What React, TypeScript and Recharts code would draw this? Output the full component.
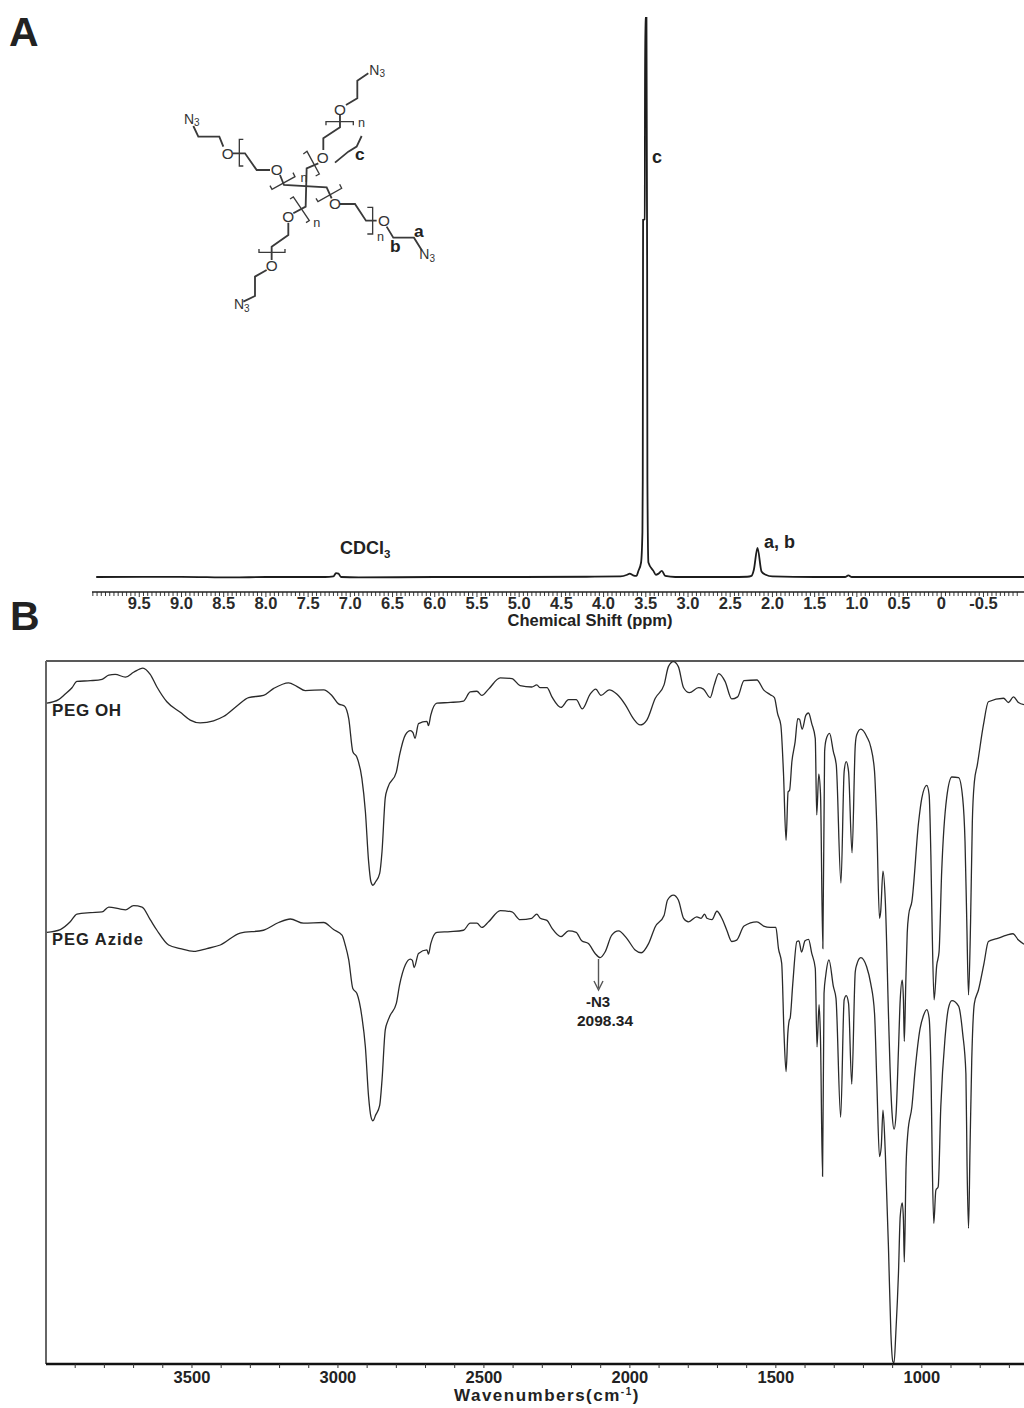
import React from 'react'
import { LineChart, Line, XAxis, YAxis, ReferenceLine } from 'recharts'

const FONT = '"Liberation Sans", Arial, sans-serif'

// 1H NMR trace: chemical shift (ppm) and relative intensity
const nmrShift = [10.01, 9.0, 8.4, 8.0, 7.3, 7.2, 7.17, 7.14, 7.11, 6.9, 6.0, 5.0, 4.2, 3.8, 3.72, 3.69, 3.65, 3.61, 3.59, 3.556, 3.54, 3.536, 3.533, 3.532, 3.512, 3.508, 3.492, 3.484, 3.481, 3.469, 3.41, 3.38, 3.35, 3.31, 3.27, 3.15, 2.5, 2.3, 2.248, 2.22, 2.177, 2.129, 2.08, 2.0, 1.5, 1.14, 1.1, 1.06, 0.5, -0.98]
const nmrIntensity = [0, 0.03, -0.08, 0, 0, 0.1, 0.7, 0.6, 0, -0.08, 0, 0, 0.05, 0.1, 0.4, 0.6, 0.3, 0.2, 1.0, 2.6, 8, 17.4, 54.9, 63.9, 64, 100, 100, 54.9, 17.4, 2.6, 1.1, 0.4, 0.6, 1.1, 0.2, 0, 0, 0.05, 0.2, 1.3, 5.2, 1.0, 0.4, 0.1, 0, 0, 0.3, 0, 0, 0]

const nmrLabelValues = [9.5, 9, 8.5, 8, 7.5, 7, 6.5, 6, 5.5, 5, 4.5, 4, 3.5, 3, 2.5, 2, 1.5, 1, 0.5, 0, -0.5]
const nmrLabels = ['9.5', '9.0', '8.5', '8.0', '7.5', '7.0', '6.5', '6.0', '5.5', '5.0', '4.5', '4.0', '3.5', '3.0', '2.5', '2.0', '1.5', '1.0', '0.5', '0', '-0.5']
const nmrTicks = Array.from({ length: 220 }, (_, i) => (1005 - i * 5) / 100)

// FTIR traces: wavenumber (cm-1) and transmittance
const ohWave = [3997, 3957, 3934, 3911, 3894, 3848, 3808, 3785, 3763, 3728, 3700, 3668, 3643, 3620, 3586, 3540, 3506, 3472, 3426, 3392, 3346, 3306, 3255, 3220, 3169, 3141, 3112, 3049, 3021, 2998, 2978, 2963, 2949, 2935, 2918, 2906, 2895, 2887, 2880, 2871, 2857, 2849, 2838, 2830, 2800, 2789, 2769, 2752, 2743, 2736, 2724, 2695, 2690, 2682, 2661, 2615, 2570, 2547, 2524, 2507, 2484, 2444, 2404, 2376, 2336, 2319, 2307, 2284, 2267, 2236, 2210, 2184, 2163, 2136, 2117, 2099, 2071, 2045, 2016, 1988, 1965, 1942, 1913, 1883, 1868, 1851, 1834, 1816, 1796, 1765, 1748, 1725, 1711, 1696, 1674, 1651, 1631, 1609, 1565, 1542, 1519, 1505, 1494, 1483, 1474, 1465, 1458, 1453, 1445, 1434, 1425, 1419, 1410, 1397, 1388, 1377, 1365, 1360, 1353, 1347, 1339, 1333, 1328, 1316, 1303, 1293, 1277, 1266, 1259, 1251, 1239, 1228, 1223, 1209, 1188, 1175, 1162, 1154, 1145, 1141, 1133, 1125, 1114, 1109, 1102, 1095, 1088, 1080, 1074, 1067, 1063, 1060, 1055, 1050, 1045, 1034, 1011, 1000, 983, 975, 969, 965, 958, 949, 941, 932, 915, 897, 874, 860, 852, 846, 840, 833, 827, 820, 810, 789, 772, 720, 703, 686, 669, 650]
const ohT = [94.0, 94.5, 95.3, 96.2, 97.1, 97.2, 97.4, 98.0, 98.1, 97.7, 98.4, 99.0, 98.1, 96.3, 94.2, 92.7, 91.6, 91.2, 91.5, 92.1, 93.6, 94.8, 95.1, 96.1, 96.9, 96.4, 95.8, 95.9, 95.1, 93.9, 93.6, 91.8, 87.1, 86.3, 83.3, 78.6, 71.5, 68.6, 68.1, 68.6, 69.8, 72.9, 80.5, 81.9, 84.2, 86.6, 89.5, 90.1, 89.8, 89.0, 91.1, 91.4, 90.8, 92.3, 94.0, 94.1, 94.3, 95.6, 95.7, 95.1, 96.0, 97.6, 97.5, 96.5, 96.3, 96.6, 96.2, 96.2, 94.9, 93.4, 94.5, 94.5, 93.2, 95.3, 96.0, 95.1, 95.9, 95.3, 93.8, 91.8, 90.9, 91.6, 94.7, 96.6, 99.2, 99.9, 99.2, 96.2, 95.5, 96.2, 96.0, 94.8, 96.6, 98.2, 97.1, 94.6, 94.9, 97.2, 97.3, 95.9, 95.2, 94.8, 92.5, 90.9, 84.2, 74.5, 81.4, 81.6, 85.7, 88.5, 91.8, 91.7, 90.3, 92.3, 92.6, 91.1, 89.0, 78.1, 83.9, 81.0, 59.1, 87.1, 88.8, 89.7, 87.1, 85.2, 68.4, 84.3, 85.7, 84.3, 72.7, 88.0, 89.5, 90.3, 89.2, 87.8, 84.3, 76.2, 63.4, 64.3, 70.1, 65.8, 49.4, 42.3, 35.7, 33.4, 35.7, 44.7, 51.8, 54.6, 51.8, 45.9, 54.1, 61.3, 63.9, 65.8, 77.1, 80.5, 82.3, 81.0, 72.4, 62.9, 51.8, 56.7, 58.6, 70.0, 80.5, 83.5, 83.4, 80.5, 74.3, 62.9, 52.5, 62.9, 77.1, 82.8, 85.2, 90.9, 94.2, 94.7, 94.1, 94.9, 94.1, 93.8]

const azideWave = [3997, 3951, 3917, 3894, 3848, 3808, 3785, 3745, 3728, 3700, 3671, 3643, 3620, 3580, 3540, 3494, 3449, 3403, 3335, 3255, 3203, 3163, 3118, 3049, 3015, 2986, 2975, 2963, 2949, 2935, 2918, 2906, 2895, 2887, 2880, 2871, 2857, 2849, 2838, 2830, 2821, 2800, 2789, 2769, 2752, 2745, 2739, 2724, 2695, 2690, 2682, 2661, 2615, 2570, 2547, 2524, 2507, 2484, 2444, 2404, 2376, 2336, 2319, 2307, 2284, 2267, 2236, 2210, 2184, 2165, 2142, 2119, 2102, 2085, 2062, 2039, 2010, 1982, 1961, 1936, 1913, 1883, 1871, 1851, 1834, 1816, 1799, 1771, 1756, 1744, 1736, 1719, 1702, 1685, 1668, 1651, 1634, 1609, 1565, 1542, 1519, 1500, 1491, 1480, 1472, 1465, 1459, 1454, 1451, 1442, 1428, 1421, 1412, 1400, 1388, 1377, 1365, 1359, 1352, 1347, 1340, 1335, 1329, 1318, 1303, 1294, 1278, 1266, 1259, 1251, 1240, 1228, 1223, 1209, 1189, 1175, 1162, 1154, 1145, 1139, 1133, 1125, 1114, 1106, 1099, 1095, 1089, 1080, 1074, 1067, 1063, 1060, 1054, 1048, 1034, 1023, 1006, 994, 983, 975, 968, 964, 959, 952, 944, 935, 920, 909, 897, 874, 860, 849, 845, 840, 835, 829, 820, 806, 787, 772, 743, 709, 688, 669, 650]
const azideT = [61.4, 61.8, 62.9, 64.0, 64.2, 64.3, 65.0, 64.7, 64.6, 65.2, 65.0, 63.2, 61.7, 59.6, 59.1, 58.7, 59.1, 59.6, 61.3, 61.7, 62.8, 63.3, 62.7, 62.8, 61.8, 61.0, 59.6, 57.5, 53.4, 52.7, 49.4, 45.1, 38.0, 35.2, 34.6, 35.4, 36.8, 40.4, 47.5, 48.7, 49.6, 51.3, 53.9, 56.8, 57.6, 57.4, 56.4, 58.4, 58.9, 58.3, 59.8, 61.4, 61.5, 61.7, 62.7, 62.7, 62.1, 62.9, 64.5, 64.3, 63.2, 63.4, 64.0, 63.4, 63.1, 62.0, 60.8, 61.6, 61.4, 60.2, 59.8, 58.4, 57.8, 58.6, 61.0, 61.6, 60.5, 58.9, 58.5, 59.8, 62.2, 63.8, 66.0, 66.7, 66.0, 63.4, 62.9, 63.6, 63.4, 64.0, 63.4, 63.2, 64.4, 63.4, 61.7, 60.1, 60.3, 62.3, 62.9, 62.3, 62.1, 62.1, 59.1, 57.0, 47.0, 41.6, 47.0, 48.9, 49.2, 54.1, 60.1, 60.2, 58.6, 60.2, 60.4, 58.4, 56.3, 45.1, 51.1, 46.1, 26.7, 52.7, 55.3, 57.5, 53.7, 52.0, 35.1, 51.8, 52.4, 51.3, 39.8, 55.8, 56.8, 57.8, 56.5, 54.1, 49.9, 39.9, 29.5, 30.9, 36.1, 30.0, 16.2, 4.4, 0.3, 0.2, 4.4, 12.9, 21.0, 22.9, 20.5, 14.5, 28.1, 32.8, 36.6, 41.8, 47.7, 49.6, 50.4, 49.2, 39.9, 28.1, 20.0, 24.7, 25.2, 36.6, 46.6, 50.6, 51.7, 50.9, 47.0, 41.3, 28.1, 19.3, 30.4, 43.2, 51.3, 53.2, 57.0, 60.1, 60.5, 61.0, 61.2, 60.3, 59.7]

const irLabelValues = [3500, 3000, 2500, 2000, 1500, 1000]
const irTicks = [3900, 3800, 3700, 3600, 3500, 3400, 3300, 3200, 3100, 3000, 2900, 2800, 2700, 2600, 2500, 2400, 2300, 2200, 2100, 2000, 1900, 1800, 1700, 1600, 1500, 1400, 1300, 1200, 1100, 1000, 900, 800, 700]

const nmrData = nmrShift.map((x, i) => ({ x, y: nmrIntensity[i] }))
const ohData = ohWave.map((x, i) => ({ x, y: ohT[i] }))
const azideData = azideWave.map((x, i) => ({ x, y: azideT[i] }))

const NmrTick = ({ x, y, payload }: any) => {
  const idx = nmrLabelValues.findIndex((v) => Math.abs(v - payload.value) < 1e-6)
  return (
    <g>
      <line x1={x} x2={x} y1={y} y2={y + (idx >= 0 ? 5 : 4)} stroke="#222" strokeWidth={0.9} />
      {idx >= 0 && (
        <text x={x} y={y + 17} textAnchor="middle" fontFamily={FONT} fontWeight="bold" fontSize={16.5} fill="#2a2a2a">
          {nmrLabels[idx]}
        </text>
      )}
    </g>
  )
}

const IrTick = ({ x, y, payload }: any) => (
  <g>
    <line x1={x} x2={x} y1={y} y2={y + 4} stroke="#333" strokeWidth={1} />
    {irLabelValues.includes(payload.value) && (
      <text x={x} y={y + 19} textAnchor="middle" fontFamily={FONT} fontWeight="bold" fontSize={16.5} fill="#222">
        {payload.value}
      </text>
    )}
  </g>
)

// coordinates of the drawn structure, in the 3x space of the sketch
const bonds = [
  '625,70 592,92 592,145 558,165',
  '540,195 540,232 490,265 490,300',
  '475,340 440,355 437,470 400,490',
  '385,518 385,555 335,590 335,630',
  '320,660 285,680 285,738 250,755',
  '100,228 115,260 178,260 190,290',
  '218,310 255,310 290,360 330,360',
  '360,375 372,405 500,412 515,445',
  '540,462 585,462 618,512 650,512',
  '680,530 700,563 762,563 785,600',
  '525,338 565,305 590,290 605,258',
]
const brackets = [
  '498,226 498,215 580,215 580,226',
  '430,312 441,304 478,372 467,378',
  '390,447 400,441 448,512 438,518',
  '297,597 297,607 375,607 375,597',
  '250,268 238,268 238,348 250,348',
  '330,407 336,418 405,380 399,368',
  '468,445 474,455 545,415 539,403',
  '622,472 638,472 638,552 622,552',
]
const atoms = [
  [540, 178, 'O'], [488, 323, 'O'], [385, 500, 'O'], [335, 647, 'O'],
  [203, 310, 'O'], [350, 360, 'O'], [525, 462, 'O'], [672, 512, 'O'],
]
const azides = [[628, 74], [72, 221], [222, 778], [778, 628]]
const repeats = [[605, 232], [432, 396], [470, 532], [662, 572]]

const Molecule = () => (
  <g transform="translate(160 50) scale(0.3333)" fontFamily={FONT} fill="#333">
    {bonds.map((p) => <polyline key={p} points={p} fill="none" stroke="#3a3a3a" strokeWidth={5.5} />)}
    {brackets.map((p) => <polyline key={p} points={p} fill="none" stroke="#3a3a3a" strokeWidth={4} />)}
    {atoms.map(([x, y, t]) => (
      <text key={`${x}-${y}`} x={x as number} y={(y as number) + 16} textAnchor="middle" fontSize={46}>{t}</text>
    ))}
    {azides.map(([x, y]) => (
      <text key={`${x}-${y}`} x={x} y={y} fontSize={42}>N<tspan fontSize={30} dy={8}>3</tspan></text>
    ))}
    {repeats.map(([x, y]) => (
      <text key={`${x}-${y}`} x={x} y={y} fontSize={38} textAnchor="middle">n</text>
    ))}
    <g fontWeight="bold" fontSize={52} fill="#222">
      <text x={762} y={560}>a</text>
      <text x={690} y={605}>b</text>
      <text x={585} y={330}>c</text>
    </g>
  </g>
)

const label = { fontFamily: FONT, fontWeight: 'bold' as const, fill: '#222' }

const Annotations = () => (
  <svg width={1024} height={1408} style={{ position: 'absolute', left: 0, top: 0 }}>
    <text x={9} y={46} {...label} fontSize={41}>A</text>
    <text x={10} y={630} {...label} fontSize={41}>B</text>
    <Molecule />
    <text x={652} y={163} {...label} fontSize={18}>c</text>
    <text x={764} y={548} {...label} fontSize={18}>a, b</text>
    <text x={340} y={554} {...label} fontSize={18}>CDCl<tspan fontSize={11.5} dy={4}>3</tspan></text>
    <text x={590} y={626} textAnchor="middle" {...label} fontSize={16.5}>Chemical Shift (ppm)</text>
    <text x={52} y={716} {...label} fontSize={17} letterSpacing={0.6}>PEG OH</text>
    <text x={52} y={945} {...label} fontSize={16.5} letterSpacing={1}>PEG Azide</text>
    <line x1={598.5} x2={598.5} y1={959} y2={988} stroke="#555" strokeWidth={1.4} />
    <polyline points="594,981 598.5,990 603,981" fill="none" stroke="#555" strokeWidth={1.4} />
    <text x={598} y={1007} textAnchor="middle" {...label} fontSize={15}>-N3</text>
    <text x={605} y={1026} textAnchor="middle" {...label} fontSize={15.5}>2098.34</text>
    <text x={547} y={1401} textAnchor="middle" {...label} fontSize={17} letterSpacing={1.5}>
      Wavenumbers(cm<tspan fontSize={10} dy={-6}>-1</tspan><tspan dy={6}>)</tspan>
    </text>
  </svg>
)

export default function App() {
  return (
    <div style={{ position: 'absolute', left: 0, top: 0, width: 1024, height: 1408, background: '#fff', overflow: 'hidden' }}>
      <div style={{ position: 'absolute', left: 0, top: 0 }}>
        <LineChart width={1024} height={640} data={nmrData} margin={{ top: 18, right: 0, bottom: 0, left: 92 }}>
          <XAxis
            dataKey="x"
            type="number"
            reversed
            domain={[-0.98, 10.06]}
            ticks={nmrTicks}
            interval={0}
            height={48}
            tickLine={false}
            tickSize={0}
            tickMargin={0}
            tick={<NmrTick />}
            axisLine={{ stroke: '#222', strokeWidth: 1.4 }}
          />
          <YAxis hide domain={[-2.68, 100]} />
          <Line type="monotone" dataKey="y" stroke="#1c1c1c" strokeWidth={1.8} dot={false} isAnimationActive={false} />
        </LineChart>
      </div>
      <div style={{ position: 'absolute', left: 0, top: 650 }}>
        <LineChart width={1024} height={758} margin={{ top: 11, right: 0, bottom: 0, left: 46 }}>
          <XAxis
            dataKey="x"
            type="number"
            reversed
            domain={[650, 4000]}
            ticks={irTicks}
            interval={0}
            height={44}
            tickLine={false}
            tickSize={0}
            tickMargin={0}
            tick={<IrTick />}
            axisLine={{ stroke: '#111', strokeWidth: 2.4 }}
          />
          <YAxis hide domain={[0, 100]} />
          <ReferenceLine y={100} stroke="#222" strokeWidth={1.5} />
          <ReferenceLine x={4000} stroke="#666" strokeWidth={2} />
          <Line type="monotone" data={ohData} dataKey="y" stroke="#2a2a2a" strokeWidth={1.3} dot={false} isAnimationActive={false} />
          <Line type="monotone" data={azideData} dataKey="y" stroke="#2a2a2a" strokeWidth={1.3} dot={false} isAnimationActive={false} />
        </LineChart>
      </div>
      <Annotations />
    </div>
  )
}
